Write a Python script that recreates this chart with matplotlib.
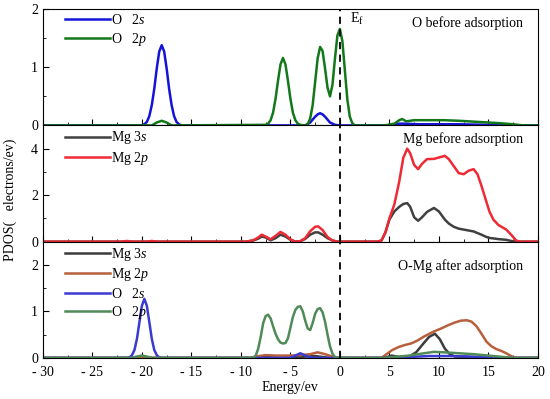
"""PDOS of O and Mg before and after adsorption, three stacked panels."""

import matplotlib
matplotlib.use("Agg")
import matplotlib.pyplot as plt
from matplotlib.ticker import MultipleLocator

plt.rcParams["font.family"] = ["Liberation Serif", "DejaVu Serif"]
plt.rcParams["mathtext.fontset"] = "custom"
plt.rcParams["mathtext.rm"] = "Liberation Serif"
plt.rcParams["mathtext.it"] = "Liberation Serif:italic"
plt.rcParams["font.size"] = 10

# ---- panel 1: O before adsorption ----
o1_s_e = [-30, -20.0, -19.75, -19.5, -19.25, -19.0, -18.75, -18.5, -18.25, -18.0,
          -17.75, -17.5, -17.25, -17.0, -16.75, -16.5, -16.25, -16.0,
          -3.5, -3.0, -2.75, -2.5, -2.25, -2.0, -1.75, -1.5, -1.25, -1.0, -0.5, 0.0,
          5.0, 6.0, 6.5, 8.0, 12.0, 15.0, 17.0, 20]
o1_s = [0, 0.0, 0.02, 0.06, 0.16, 0.35, 0.63, 0.98, 1.27, 1.38,
        1.27, 0.98, 0.63, 0.35, 0.16, 0.06, 0.02, 0.0,
        0.0, 0.05, 0.10, 0.15, 0.19, 0.21, 0.19, 0.15, 0.10, 0.05, 0.01, 0.0,
        0.0, 0.03, 0.03, 0.02, 0.02, 0.01, 0.0, 0]

o1_p_e = [-30, -19.0, -18.5, -18.0, -17.5, -17.0,
          -7.5, -7.25, -7.0, -6.75, -6.5, -6.25, -6.0, -5.75, -5.5, -5.25, -5.0,
          -4.75, -4.5, -4.25, -4.0, -3.5, -3.25, -3.0, -2.75, -2.5, -2.25, -2.0,
          -1.75, -1.5, -1.25, -1.0, -0.75, -0.5, -0.25, 0.0, 0.25, 0.5, 0.75,
          1.0, 1.25, 1.5, 4.5, 5.5, 6.0, 6.3, 6.7, 7.5, 9.0, 10.5, 12.0, 14.0,
          16.0, 17.5, 18.5, 20]
o1_p = [0, 0.0, 0.05, 0.08, 0.05, 0.0,
        0.01, 0.03, 0.09, 0.22, 0.46, 0.77, 1.05, 1.16, 1.05, 0.77, 0.46,
        0.22, 0.09, 0.03, 0.01, 0.0, 0.02, 0.12, 0.35, 0.75, 1.15, 1.35,
        1.28, 0.98, 0.65, 0.50, 0.70, 1.15, 1.55, 1.66, 1.45, 0.95, 0.45,
        0.15, 0.04, 0.0, 0.0, 0.03, 0.09, 0.11, 0.07, 0.09, 0.09, 0.09, 0.08, 0.06,
        0.04, 0.02, 0.0, 0]

# ---- panel 2: Mg before adsorption ----
mg2_e = [-30, -22.0, -21.5, -21.0, -19.5, -19.0, -18.5,
         -9.5, -8.75, -8.25, -7.9, -7.5, -7.0, -6.5, -6.0, -5.5, -5.0, -4.5, -4.0,
         -3.5, -3.0, -2.5, -2.2, -1.75, -1.25, -0.75, -0.25,
         3.8, 4.2, 4.6, 5.0, 5.5, 6.0, 6.4, 6.8, 7.1, 7.5, 7.9, 8.3, 8.8, 9.5,
         10.0, 10.6, 11.0, 11.5, 12.0, 12.5, 13.0, 13.5, 13.9, 14.3, 14.7, 15.1,
         15.5, 16.0, 16.8, 17.3, 17.8, 18.2, 20]
mg2_s = [0, 0.0, 0.02, 0.0, 0.0, 0.02, 0.0,
         0.0, 0.05, 0.13, 0.22, 0.18, 0.06, 0.15, 0.30, 0.22, 0.08, 0.0, 0.02,
         0.12, 0.30, 0.40, 0.40, 0.30, 0.15, 0.05, 0.0,
         0.0, 0.05, 0.40, 0.95, 1.30, 1.50, 1.62, 1.66, 1.50, 1.05, 0.90, 1.05, 1.28, 1.45,
         1.30, 0.95, 0.78, 0.64, 0.56, 0.52, 0.48, 0.44, 0.37, 0.30, 0.22, 0.16,
         0.14, 0.11, 0.08, 0.03, 0.0, 0.0, 0]
mg2_p = [0, 0.0, 0.03, 0.0, 0.0, 0.03, 0.0,
         0.0, 0.06, 0.18, 0.30, 0.22, 0.10, 0.25, 0.42, 0.30, 0.10, 0.0, 0.02,
         0.15, 0.45, 0.64, 0.66, 0.50, 0.20, 0.05, 0.0,
         0.0, 0.05, 0.40, 1.00, 1.60, 2.60, 3.60, 4.00, 3.80, 3.30, 3.12, 3.35, 3.55, 3.56,
         3.62, 3.69, 3.55, 3.25, 2.95, 2.90, 3.05, 3.12, 2.90, 2.40, 1.85, 1.30,
         0.95, 0.72, 0.52, 0.30, 0.05, 0.0, 0]

# ---- panel 3: O-Mg after adsorption ----
mg3_s_e = [-30, -9.0, -7.5, -6.0, -4.0, -2.5, -1.0, 4.5, 5.2, 6.0, 7.0, 7.7, 8.4,
           9.0, 9.6, 10.1, 10.6, 11.1, 11.6, 13.0, 15.0, 16.0, 20]
mg3_s = [0, 0.0, 0.02, 0.0, 0.02, 0.04, 0.0, 0.0, 0.05, 0.02, 0.03, 0.12, 0.30,
         0.45, 0.52, 0.40, 0.20, 0.08, 0.03, 0.02, 0.01, 0.0, 0]

mg3_p_e = [-30, -9.0, -8.5, -7.5, -6.5, -5.0, -4.0, -3.0, -2.25, -1.5, -0.5, 0.0,
           4.2, 4.7, 5.3, 6.0, 6.6, 7.2, 7.8, 8.5, 9.4, 10.2, 10.9, 11.6, 12.2,
           12.8, 13.3, 13.8, 14.3, 14.8, 15.3, 15.8, 16.3, 16.8, 17.3, 17.7, 20]
mg3_p = [0, 0.0, 0.03, 0.06, 0.05, 0.05, 0.06, 0.08, 0.12, 0.08, 0.01, 0.0,
         0.0, 0.08, 0.17, 0.24, 0.28, 0.31, 0.37, 0.46, 0.56, 0.63, 0.70, 0.76, 0.80,
         0.81, 0.78, 0.68, 0.52, 0.35, 0.25, 0.19, 0.15, 0.10, 0.04, 0.0, 0]

o3_s_e = [-30, -21.5, -21.25, -21.0, -20.75, -20.5, -20.25, -20.0, -19.75, -19.5,
          -19.25, -19.0, -18.75, -18.5, -18.25, -18.0,
          -5.0, -4.5, -4.0, -3.5, -3.0, -2.5, 5.0, 7.0, 9.0, 11.0, 13.0, 15.0, 16.0, 20]
o3_s = [0, 0.0, 0.01, 0.06, 0.17, 0.41, 0.77, 1.12, 1.27, 1.12,
        0.77, 0.41, 0.17, 0.06, 0.01, 0.0,
        0.0, 0.05, 0.10, 0.05, 0.01, 0.0, 0.0, 0.02, 0.04, 0.04, 0.03, 0.01, 0.0, 0]

o3_p_e = [-30, -21.0, -20.5, -20.0, -19.5, -19.0,
          -8.75, -8.5, -8.25, -8.0, -7.75, -7.5, -7.25, -7.0, -6.75, -6.5, -6.25,
          -6.0, -5.75, -5.5, -5.25, -5.0, -4.75, -4.5, -4.25, -4.0, -3.75, -3.5,
          -3.25, -3.0, -2.75, -2.5, -2.25, -2.0, -1.75, -1.5, -1.25, -1.0, -0.75,
          -0.5, -0.25, 4.5, 5.5, 7.0, 8.5, 9.5, 10.5, 12.0, 13.5, 15.0, 16.5, 17.5, 20]
o3_p = [0, 0.0, 0.03, 0.05, 0.03, 0.0,
        0.0, 0.05, 0.20, 0.45, 0.75, 0.90, 0.93, 0.85, 0.68, 0.52, 0.40,
        0.33, 0.31, 0.32, 0.42, 0.65, 0.88, 1.03, 1.10, 1.11, 1.00, 0.80,
        0.63, 0.60, 0.75, 0.95, 1.05, 1.07, 0.98, 0.78, 0.50, 0.25, 0.09,
        0.02, 0.0, 0.0, 0.02, 0.05, 0.10, 0.13, 0.12, 0.10, 0.08, 0.05, 0.02, 0.0, 0]

x_ticks = [-30, -25, -20, -15, -10, -5, 0, 5, 10, 15, 20]
x_tick_labels = ["- 30", "- 25", "- 20", "- 15", "- 10", "- 5", "0", "5", "10", "15", "20"]

fig, (ax1, ax2, ax3) = plt.subplots(3, 1, sharex=True, figsize=(5.5, 3.99), dpi=100)
fig.subplots_adjust(left=0.078, right=0.978, top=0.977, bottom=0.103, hspace=0)

lw = 1.8
ax1.plot(o1_s_e, o1_s, color="#1414d8", lw=lw, label="O   2$\\mathit{s}$")
ax1.plot(o1_p_e, o1_p, color="#12781a", lw=lw, label="O   2$\\mathit{p}$")

ax2.plot(mg2_e, mg2_s, color="#404040", lw=lw, label="Mg 3$\\mathit{s}$")
ax2.plot(mg2_e, mg2_p, color="#ee2a34", lw=lw, label="Mg 2$\\mathit{p}$")

ax3.plot(mg3_s_e, mg3_s, color="#3c3c3c", lw=lw, label="Mg 3$\\mathit{s}$")
ax3.plot(mg3_p_e, mg3_p, color="#b8603c", lw=lw, label="Mg 2$\\mathit{p}$")
ax3.plot(o3_s_e, o3_s, color="#3a3ad0", lw=lw, label="O   2$\\mathit{s}$")
ax3.plot(o3_p_e, o3_p, color="#4f8a58", lw=lw, label="O   2$\\mathit{p}$")

limits = [(0, 2, 1), (0, 5, 2), (0, 2.5, 1)]
titles = ["O before adsorption", "Mg before adsorption", "O-Mg after adsorption"]
title_y = [0.88, 0.88, 0.79]
for ax, (lo, hi, step), title, ty in zip((ax1, ax2, ax3), limits, titles, title_y):
    ax.set_xlim(-30, 20)
    ax.set_ylim(lo, hi)
    ax.yaxis.set_major_locator(MultipleLocator(step))
    ax.yaxis.set_minor_locator(MultipleLocator(step / 2))
    ax.xaxis.set_major_locator(MultipleLocator(5))
    ax.xaxis.set_minor_locator(MultipleLocator(2.5))
    ax.tick_params(which="both", direction="in", top=False, right=False, labelsize=10)
    ax.tick_params(which="major", length=4, width=0.8)
    ax.tick_params(which="minor", length=2, width=0.6)
    ax.axvline(0, color="black", lw=1.3, ls=(0, (4, 3)))
    ax.text(0.97, ty, title, transform=ax.transAxes, ha="right", va="center", fontsize=10)
    ax.legend(loc="upper left", bbox_to_anchor=(0.045, 0.965), frameon=False,
              borderpad=0, borderaxespad=0, handlelength=3.2, handletextpad=0.1,
              labelspacing=0.25, fontsize=10)

ax1.text(1.0, 1.83, "E$_\\mathrm{f}$", ha="left", va="center", fontsize=10)

ax3.set_xticks(x_ticks)
ax3.set_xticklabels(x_tick_labels)
ax3.tick_params(axis="x", which="major", pad=6)
ax3.set_xlabel("Energy/ev", fontsize=10, labelpad=1)
fig.text(0.018, 0.5, "PDOS(   electrons/ev)", rotation=90, ha="center", va="center", fontsize=10)

fig.savefig("out.png", dpi=100)
